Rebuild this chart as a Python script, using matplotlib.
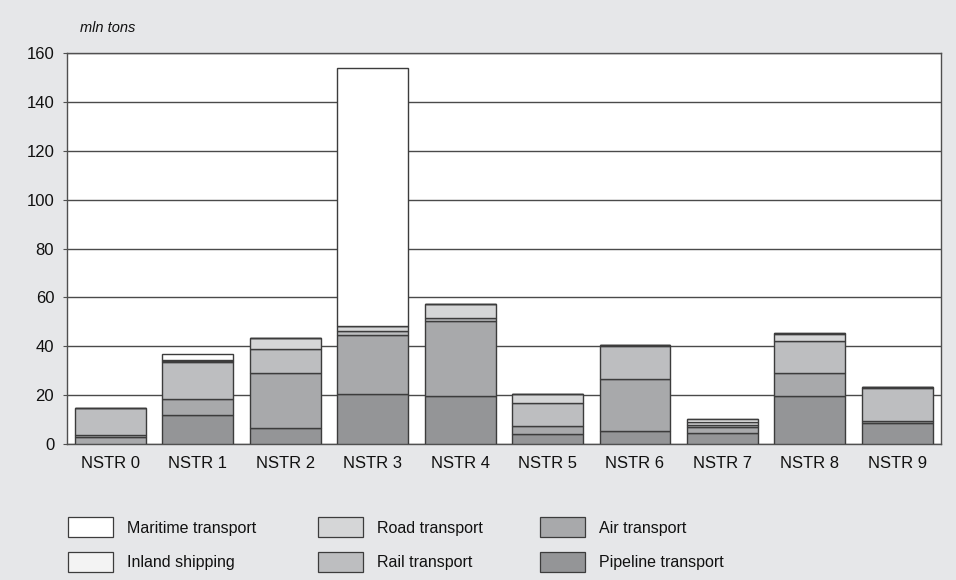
import numpy as np
import matplotlib.pyplot as plt
from matplotlib.patches import Rectangle

plt.rcParams['font.family'] = ['Liberation Sans', 'DejaVu Sans']

categories = ['NSTR 0', 'NSTR 1', 'NSTR 2', 'NSTR 3', 'NSTR 4',
              'NSTR 5', 'NSTR 6', 'NSTR 7', 'NSTR 8', 'NSTR 9']

# mln tons, stacked bottom -> top
pipeline = [0.0, 11.7, 6.5, 20.3, 19.6, 4.0, 5.2, 4.4, 19.4, 8.4]
air = [2.8, 6.8, 22.6, 24.1, 30.7, 3.3, 21.3, 2.4, 9.5, 0.9]
rail = [0.8, 15.1, 9.9, 1.8, 1.1, 9.3, 13.6, 1.0, 13.2, 13.4]
road = [11.0, 0.3, 4.2, 2.1, 5.8, 3.7, 0.3, 1.1, 2.7, 0.4]
inland = [0.0, 0.3, 0.0, 0.0, 0.0, 0.0, 0.0, 1.2, 0.7, 0.3]
maritime = [0.0, 2.7, 0.0, 105.5, 0.0, 0.0, 0.0, 0.0, 0.0, 0.0]

series = [('Pipeline transport', pipeline, '#949597'),
          ('Air transport', air, '#a8a9ab'),
          ('Rail transport', rail, '#bdbec0'),
          ('Road transport', road, '#d5d6d7'),
          ('Inland shipping', inland, '#f3f3f3'),
          ('Maritime transport', maritime, '#ffffff')]
# NSTR 0's large top block is drawn in the rail shade as in the source
bar_colors = {'Road transport': ['#bdbec0'] + ['#d5d6d7'] * 9}

bg = '#e6e7e9'
fig = plt.figure(figsize=(9.56, 5.8), dpi=100, facecolor=bg)
ax = fig.add_axes([0.0698, 0.235, 0.9145, 0.673])

x = np.arange(len(categories))
bottom = np.zeros(len(categories))
for name, vals, col in series:
    vals = np.array(vals)
    ax.bar(x, vals, width=0.81, bottom=bottom, color=bar_colors.get(name, col),
           edgecolor='#3c3c3c', linewidth=1.0, zorder=3)
    bottom = bottom + vals

ax.set_xlim(-0.5, 9.5)
ax.set_ylim(0, 160)
ax.set_yticks(np.arange(0, 161, 20))
ax.set_xticks(x)
ax.set_xticklabels(categories)
ax.yaxis.grid(True, color='#4a4a4a', linewidth=1.0, zorder=0)
ax.set_axisbelow(True)
ax.tick_params(axis='x', length=0, labelsize=12, pad=9, colors='#111111')
ax.tick_params(axis='y', length=3, labelsize=12, pad=6, colors='#111111',
               color='#505050')
for s in ax.spines.values():
    s.set_color('#505050')
    s.set_linewidth(1.0)

fig.text(0.084, 0.952, 'mln tons', fontsize=10.5, style='italic',
         ha='left', va='center', color='#111111')

# legend laid out by hand in two rows, three columns
leg = [('Maritime transport', '#ffffff', 0, 0),
       ('Inland shipping', '#f3f3f3', 0, 1),
       ('Road transport', '#d5d6d7', 1, 0),
       ('Rail transport', '#bdbec0', 1, 1),
       ('Air transport', '#a8a9ab', 2, 0),
       ('Pipeline transport', '#949597', 2, 1)]
col_x = [68, 318, 540]
row_y = [527, 562]
for name, col, c, r in leg:
    x0 = col_x[c]
    y0 = row_y[r]
    fig.patches.append(Rectangle((x0 / 956, 1 - (y0 + 10) / 580), 45 / 956, 20 / 580,
                                 transform=fig.transFigure, facecolor=col,
                                 edgecolor='#3c3c3c', linewidth=0.9))
    fig.text((x0 + 59) / 956, 1 - (y0 + 1) / 580, name, fontsize=11.5,
             ha='left', va='center', color='#111111')

fig.savefig('out.png', dpi=100, facecolor=bg)
